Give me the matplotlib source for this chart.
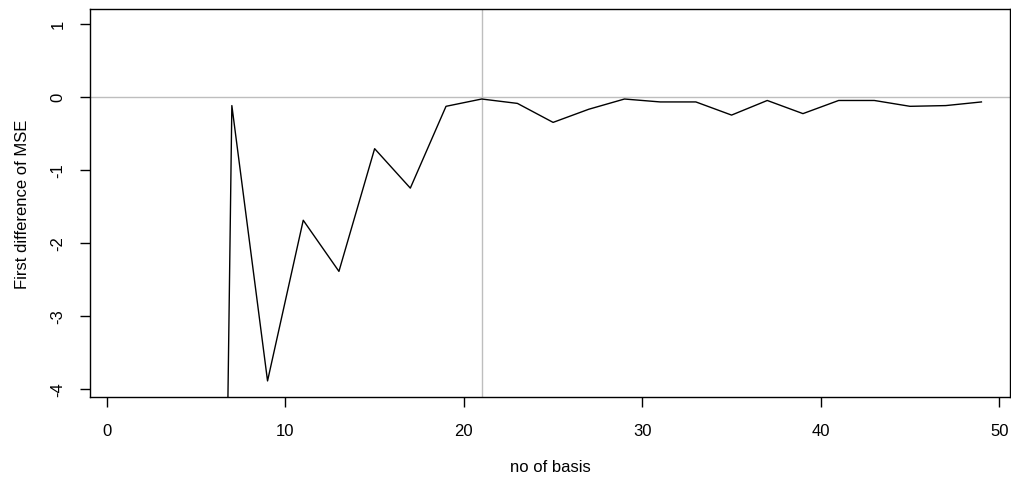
import matplotlib
matplotlib.use("Agg")
import matplotlib.pyplot as plt

# first difference of MSE against number of basis functions
n_basis = [5, 7, 9, 11, 13, 15, 17, 19, 21, 23, 25, 27, 29, 31, 33, 35, 37, 39, 41, 43, 45, 47, 49]
mse_diff = [-36.5, -0.12, -3.89, -1.69, -2.39, -0.71, -1.25, -0.13, -0.03, -0.09, -0.35, -0.17,
            -0.03, -0.07, -0.07, -0.25, -0.05, -0.23, -0.05, -0.05, -0.13, -0.12, -0.07]
best_basis = 21

plt.rcParams['font.family'] = ['Liberation Sans', 'DejaVu Sans']

fig = plt.figure(figsize=(10.12, 4.85), dpi=100)
ax = fig.add_axes([0.0889, 0.1794, 0.9091, 0.7996])

ax.axhline(0, color='#BEBEBE', lw=1, zorder=1)
ax.axvline(best_basis, color='#BEBEBE', lw=1, zorder=1)
ax.plot(n_basis, mse_diff, color='black', lw=1, zorder=2)

ax.set_xlim(-0.95, 50.6)
ax.set_ylim(-4.11, 1.2)
ax.set_xticks([0, 10, 20, 30, 40, 50])
ax.set_yticks([-4, -3, -2, -1, 0, 1])
ax.set_yticklabels(['-4', '-3', '-2', '-1', '0', '1'], rotation=90, va='center')
ax.tick_params(direction='out', length=7, width=1, labelsize=12)
ax.tick_params(axis='x', pad=12)
ax.tick_params(axis='y', pad=10.5)
for s in ax.spines.values():
    s.set_linewidth(1)

ax.set_xlabel('no of basis', fontsize=12, labelpad=15)
ax.set_ylabel('First difference of MSE', fontsize=12, labelpad=15)

fig.savefig('out.png', dpi=100)
